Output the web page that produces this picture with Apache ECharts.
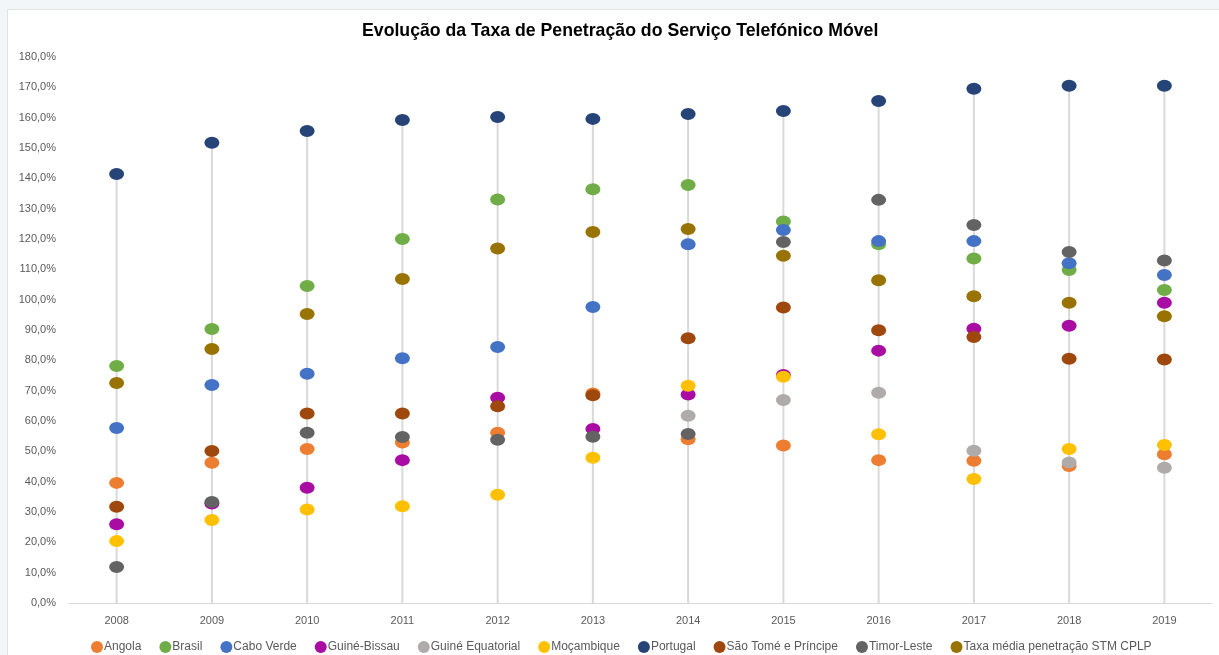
<!DOCTYPE html>
<html>
<head>
<meta charset="utf-8">
<script src="https://cdn.jsdelivr.net/npm/echarts@6/dist/echarts.min.js"></script>
<style>
  html, body { margin: 0; padding: 0; background: #f3f6f8; }
  #frame { position: absolute; left: 7px; top: 9px; width: 1212px; height: 646px; background: #ffffff; border-left: 1px solid #e1e4e6; border-top: 1px solid #e1e4e6; box-sizing: border-box; }
  #chart { position: absolute; left: 0; top: 0; width: 1219px; height: 655px; }
</style>
</head>
<body>
<div id="frame"></div>
<div id="chart"></div>
<script>
const years = ['2008','2009','2010','2011','2012','2013','2014','2015','2016','2017','2018','2019'];
const yTicks = { min: 0, max: 180, interval: 10 };
const angola          = [39.6, 46.2, 50.8, 52.9, 56.1, 69.1, 54.0, 51.9, 47.1, 46.9, 45.2, 49.0];
const brasil          = [78.1, 90.3, 104.5, 120.0, 133.0, 136.4, 137.8, 125.8, 118.3, 113.6, 109.8, 103.2];
const caboVerde       = [57.7, 71.9, 75.6, 80.7, 84.4, 97.6, 118.3, 123.0, 119.3, 119.3, 112.0, 108.1];
const guineBissau     = [26.0, 32.8, 38.0, 47.1, 67.7, 57.4, 68.7, 75.2, 83.2, 90.4, 91.4, 99.0];
const guineEquatorial = [null, null, null, null, null, null, 61.7, 66.9, 69.3, 50.2, 46.3, 44.6];
const mocambique      = [20.4, 27.4, 30.8, 31.9, 35.7, 47.9, 71.6, 74.6, 55.6, 40.9, 50.8, 52.1];
const portugal        = [141.4, 151.7, 155.6, 159.2, 160.2, 159.6, 161.2, 162.2, 165.5, 169.5, 170.5, 170.5];
const saoTome         = [31.7, 50.1, 62.5, 62.5, 64.9, 68.5, 87.3, 97.4, 89.9, 87.7, 80.5, 80.3];
const timorLeste      = [11.9, 33.3, 56.1, 54.7, 53.8, 54.8, 55.7, 119.0, 132.9, 124.6, 115.7, 112.9];
const taxaMedia       = [72.5, 83.7, 95.3, 106.8, 116.9, 122.3, 123.3, 114.5, 106.4, 101.1, 99.0, 94.5];

const seriesDefs = [
  { name: 'Angola', data: angola, color: '#ED7D31' },
  { name: 'Brasil', data: brasil, color: '#70AD47' },
  { name: 'Cabo Verde', data: caboVerde, color: '#4472C4' },
  { name: 'Guiné-Bissau', data: guineBissau, color: '#A80CA3' },
  { name: 'Guiné Equatorial', data: guineEquatorial, color: '#AFABAB' },
  { name: 'Moçambique', data: mocambique, color: '#FFC000' },
  { name: 'Portugal', data: portugal, color: '#264478' },
  { name: 'São Tomé e Príncipe', data: saoTome, color: '#9E480E' },
  { name: 'Timor-Leste', data: timorLeste, color: '#636363' },
  { name: 'Taxa média penetração STM CPLP', data: taxaMedia, color: '#997300' }
];

const dropLines = years.map((_, i) => Math.max(...seriesDefs.map(s => s.data[i] == null ? -Infinity : s.data[i])));

const font = 'Liberation Sans, Arial, sans-serif';
const chart = echarts.init(document.getElementById('chart'));
chart.setOption({
  animation: false,
  backgroundColor: 'transparent',
  title: {
    text: 'Evolução da Taxa de Penetração do Serviço Telefónico Móvel',
    left: 357, top: 17,
    textStyle: { fontFamily: font, fontSize: 17.7, fontWeight: 'bold', color: '#000000' }
  },
  legend: {
    top: 636, left: 86,
    data: seriesDefs.map(s => s.name),
    icon: 'circle', itemWidth: 12, itemHeight: 12, itemGap: 18,
    textStyle: { fontFamily: font, fontSize: 12, color: '#595959', padding: [0, 0, 0, -4] }
  },
  grid: { left: 69, right: 7, top: 57, bottom: 52 },
  xAxis: {
    type: 'category', data: years, boundaryGap: true,
    axisLine: { lineStyle: { color: '#d9d9d9', width: 1 } },
    axisTick: { show: false },
    axisLabel: { fontFamily: font, fontSize: 11, color: '#595959', margin: 12 },
    splitLine: { show: false }
  },
  yAxis: {
    type: 'value', min: yTicks.min, max: yTicks.max, interval: yTicks.interval,
    axisLine: { show: false }, axisTick: { show: false },
    splitLine: { show: false },
    axisLabel: { fontFamily: font, fontSize: 11, color: '#595959', margin: 13,
      formatter: v => v.toFixed(1).replace('.', ',') + '%' }
  },
  series: [
    { type: 'bar', name: 'drop', data: dropLines, barWidth: 2, silent: true, z: 1,
      itemStyle: { color: '#d9d9d9' } }
  ].concat(seriesDefs.map((s, k) => ({
    type: 'scatter', name: s.name, data: s.data,
    symbol: 'circle', symbolSize: [15, 12], z: 2 + k,
    itemStyle: { color: s.color, opacity: 1 }
  })))
});
</script>
</body>
</html>
